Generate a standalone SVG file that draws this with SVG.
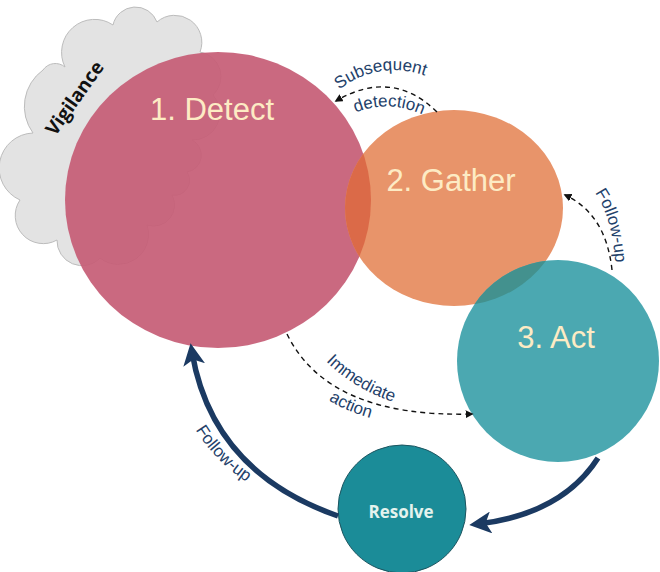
<svg xmlns="http://www.w3.org/2000/svg" width="660" height="572" viewBox="0 0 660 572">
<style>
.big{font-family:"Liberation Sans",Arial,sans-serif;font-size:31px;fill:#fdebc4;text-anchor:middle}
.lbl{font-family:"Liberation Sans",Arial,sans-serif;font-size:17px;fill:#23416a}
.dash{fill:none;stroke:#111;stroke-width:1.4;stroke-dasharray:5,4}
.thick{fill:none;stroke:#1b3a62;stroke-width:5.5}
</style>
<defs>
<marker id="ah" viewBox="0 0 10 10" refX="8" refY="5" markerWidth="8" markerHeight="8" markerUnits="userSpaceOnUse" orient="auto"><path d="M0,0L10,5L0,10z" fill="#111"/></marker>
<marker id="ahb" viewBox="0 0 10 10" refX="6" refY="5" markerWidth="22" markerHeight="22" markerUnits="userSpaceOnUse" orient="auto"><path d="M0,0L10,5L0,10L2.5,5z" fill="#1b3a62"/></marker>
<clipPath id="cDetect"><ellipse cx="218" cy="200" rx="153" ry="148"/></clipPath>
<clipPath id="cGather"><ellipse cx="454" cy="208" rx="109" ry="98"/></clipPath>
<path id="tpSub" d="M330,97 Q378,54 436,80"/>
<path id="tpDet" d="M348,116 Q388,96 430,118"/>
<path id="tpFol" d="M588,184 Q614,212 616,274"/>
<path id="tpImm" d="M319,354 Q351,390 403,405"/>
<path id="tpAct" d="M322,396 Q345,412 378,420"/>
<path id="tpFol2" d="M190,420 Q212,462 256,488"/>
</defs>

<g id="vigilance">
<path d="M65,67 A33,33 0 0 1 113,25 A23,23 0 0 1 157,22 A27,27 0 0 1 200,52 A25,25 0 0 1 213,95 A27,27 0 0 1 192,140 A17,17 0 0 1 187,172 A15,15 0 0 1 172,195 A21,21 0 0 1 147,225 A30,30 0 0 1 100,258 A25,25 0 0 1 57,240 A28,28 0 0 1 20,200 A35,35 0 0 1 33,133 A45,45 0 0 1 43,70 A15,15 0 0 1 65,67 Z" fill="#e3e3e3" stroke="#bcbcbc" stroke-width="1"/>
<text transform="translate(80,102) rotate(-54.5)" text-anchor="middle" font-family="'Open Sans','Liberation Sans',sans-serif" font-weight="bold" font-size="19" fill="#111">Vigilance</text>
</g>

<g id="detect">
<ellipse cx="218" cy="200" rx="153" ry="148" fill="#c65e76" opacity="0.93"/>
<text class="big" x="212" y="120">1. Detect</text>
</g>

<g id="gather">
<ellipse cx="454" cy="208" rx="109" ry="98" fill="#e8946a"/>
<g clip-path="url(#cDetect)"><ellipse cx="454" cy="208" rx="109" ry="98" fill="#db6a48"/></g>
<text class="big" x="451" y="191">2. Gather</text>
</g>

<g id="act">
<circle cx="558" cy="361" r="101" fill="#4ba8b1"/>
<g clip-path="url(#cGather)"><circle cx="558" cy="361" r="101" fill="#43918e"/></g>
<text class="big" x="556" y="348">3. Act</text>
</g>

<g id="resolve">
<circle cx="402" cy="509" r="64" fill="#1b8c98" stroke="#1d5560" stroke-width="1"/>
<text x="401" y="518" text-anchor="middle" font-family="'Open Sans','Liberation Sans',sans-serif" font-weight="bold" font-size="17" fill="#e4f3ee">Resolve</text>
</g>

<g id="connectors">
<path class="dash" d="M437,112 Q392,68 336,101" marker-end="url(#ah)"/>
<path class="dash" d="M612,270 Q606,214 565,195" marker-end="url(#ah)"/>
<path class="dash" d="M287,334 Q328,418 472,414" marker-end="url(#ah)"/>
<path class="thick" d="M338,516 Q212,472 192,352" marker-end="url(#ahb)"/>
<path class="thick" d="M598,458 Q562,514 478,524" marker-end="url(#ahb)"/>
<text class="lbl"><textPath href="#tpSub" startOffset="50%" text-anchor="middle">Subsequent</textPath></text>
<text class="lbl"><textPath href="#tpDet" startOffset="50%" text-anchor="middle">detection</textPath></text>
<text class="lbl"><textPath href="#tpFol" startOffset="50%" text-anchor="middle">Follow-up</textPath></text>
<text class="lbl"><textPath href="#tpImm" startOffset="50%" text-anchor="middle">Immediate</textPath></text>
<text class="lbl"><textPath href="#tpAct" startOffset="50%" text-anchor="middle">action</textPath></text>
<text class="lbl"><textPath href="#tpFol2" startOffset="50%" text-anchor="middle">Follow-up</textPath></text>
</g>
</svg>
